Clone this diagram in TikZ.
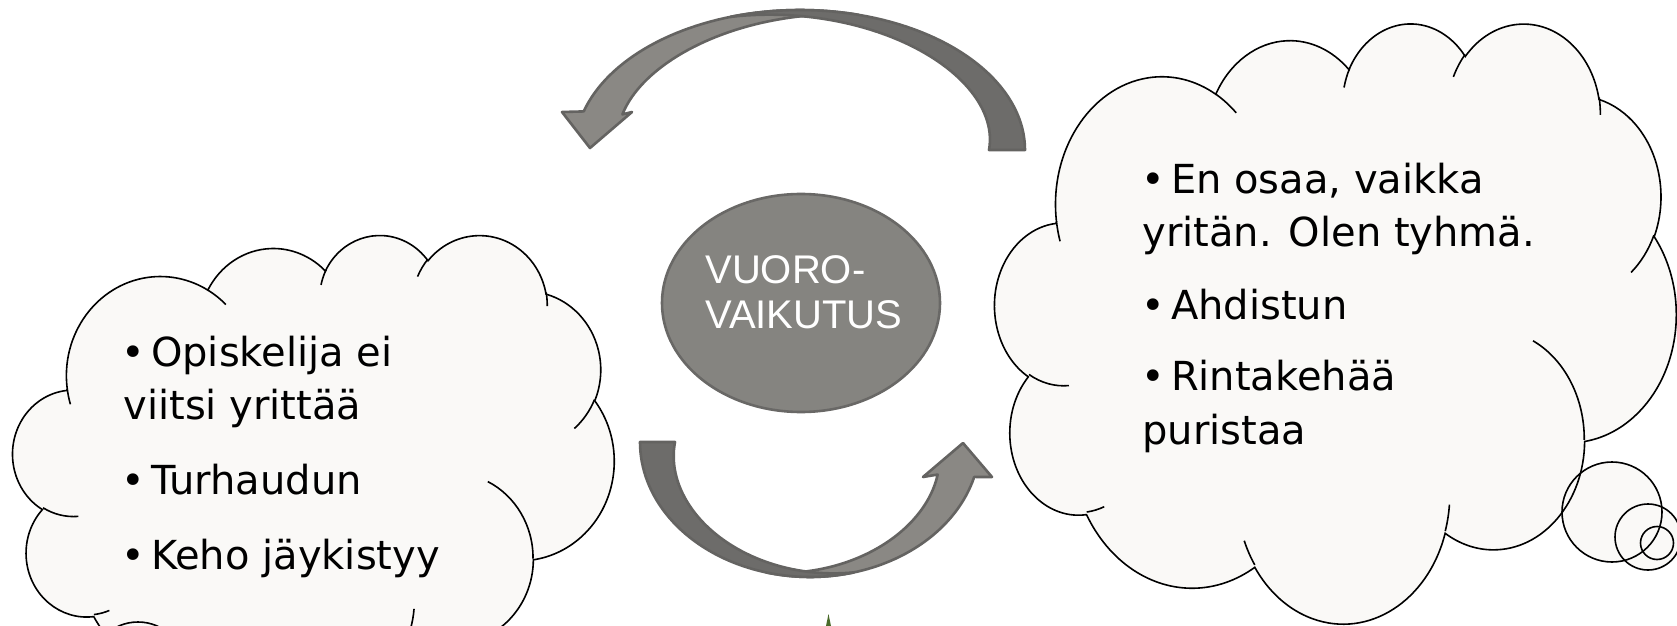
\documentclass[tikz,border=0pt]{standalone}
\usepackage{fontspec}
\setmainfont{DejaVu Sans}
\newfontfamily\arialf{Liberation Sans}
\usetikzlibrary{shapes.geometric}
\definecolor{cloudfill}{HTML}{FAF9F7}
\definecolor{arrdark}{HTML}{6D6C6A}
\definecolor{arrlight}{HTML}{8A8884}
\definecolor{arredge}{HTML}{646361}
\definecolor{ellfill}{HTML}{858480}
\definecolor{elledge}{HTML}{696866}
\definecolor{sprout}{HTML}{4A6B2A}
% arc of an OOXML-style ellipse: wR, hR, start angle, sweep (visual angles)
\newcommand\carc[4]{arc[x radius=#1, y radius=#2, start angle={pa(#1,#2,#3)}, delta angle={mod(pa(#1,#2,(#3)+(#4))-pa(#1,#2,#3)+720,360)}]}
\newcommand\cloudmain{(39.00,143.70)
  \carc{67.53}{91.90}{-190.4875}{123.7805}
  \carc{53.33}{72.67}{-144.1024}{89.9452}
  \carc{43.65}{59.45}{-145.8079}{99.7230}
  \carc{48.57}{65.95}{-130.9861}{117.2417}
  \carc{53.33}{72.73}{-78.7089}{109.0269}
  \carc{67.75}{92.20}{-46.2673}{130.2690}
  \carc{57.85}{78.67}{0.6250}{114.0333}
  \carc{67.52}{92.15}{22.4516}{115.1726}
  \carc{77.20}{105.43}{66.2426}{75.7110}
  \carc{43.60}{59.18}{-274.9421}{146.7356}
  \carc{43.45}{59.45}{-246.8285}{152.5189} -- cycle}
\newcommand\cloudcrease{
  (46.93,261.77) \carc{43.45}{59.45}{86.7420}{26.4295}
  (69.28,348.99) \carc{43.60}{59.18}{73.6105}{11.4475}
  (164.78,390.90) \carc{67.52}{92.15}{137.6242}{14.0811}
  (288.27,347.51) \carc{67.52}{92.15}{6.4533}{15.9984}
  (341.29,229.54) \carc{57.85}{78.67}{-70.2924}{70.9174}
  (417.98,153.54) \carc{53.33}{72.73}{30.3180}{27.7515}
  (383.24,54.26) \carc{48.57}{65.95}{-13.7443}{14.8589}
  (290.78,39.52) \carc{48.57}{65.95}{-149.1815}{18.1954}
  (221.41,47.20) \carc{43.65}{59.45}{-163.4943}{17.6864}
  (140.00,51.92) \carc{67.53}{91.90}{-66.7070}{12.3194}
  (41.27,157.89) \carc{67.53}{91.90}{157.6544}{11.8582}}
\begin{document}
\begin{tikzpicture}[x=0.5pt,y=-0.5pt,
  cloudline/.style={draw=black, line width=0.8pt},
  arrw/.style={draw=arredge, line width=1.3pt, line join=round},
  txt/.style={inner sep=0pt, font=\fontsize{20pt}{24pt}\selectfont, text=black, anchor=base west},
  vtxt/.style={inner sep=0pt, font=\arialf\fontsize{20pt}{24pt}\selectfont, text=white, anchor=base west},
  declare function={pa(\p,\q,\r)=atan2(\p*sin(\r),\q*cos(\r));}]
\useasboundingbox (0,0) rectangle (1677,626);
\fill[white] (0,0) rectangle (1677,626);
\clip (0,0) rectangle (1677,626);

% ---------- left cloud ----------
\begin{scope}[shift={(13,234)}, x=0.69560pt, y=-0.53935pt]
  \fill[cloudfill] \cloudmain;
\end{scope}
\fill[cloudfill] (138,670) circle[radius=48];
\begin{scope}[shift={(13,234)}, x=0.69560pt, y=-0.53935pt]
  \path[cloudline] \cloudmain;
  \path[cloudline] \cloudcrease;
\end{scope}
\path[cloudline] (138,670) circle[radius=48];

% ---------- right cloud ----------
\begin{scope}[shift={(995,22)}, x=0.78819pt, y=-0.69444pt]
  \fill[cloudfill] \cloudmain;
\end{scope}
\fill[cloudfill] (1612,512) circle[radius=50];
\fill[cloudfill] (1648,537) circle[radius=33];
\fill[cloudfill] (1657,543) circle[radius=16.5];
\begin{scope}[shift={(995,22)}, x=0.78819pt, y=-0.69444pt]
  \path[cloudline] \cloudmain;
  \path[cloudline] \cloudcrease;
\end{scope}
\path[cloudline] (1612,512) circle[radius=50];
\path[cloudline] (1648,537) circle[radius=33];
\path[cloudline] (1657,543) circle[radius=16.5];

% ---------- top arrow ----------
\path[arrw, fill=arrlight] plot[domain=75:164, samples=45, variable=\t] ({800+225*cos(\t)},{150-140*sin(\t)})
  -- (562,112) -- (590,148) -- (632,112)
  -- plot[domain=160:75, samples=45, variable=\t] ({800+(225-36*(\t-75)/85)*cos(\t)},{150-(140-36*(\t-75)/85)*sin(\t)}) -- cycle;
\path[arrw, fill=arrdark] plot[domain=0:108, samples=50, variable=\t] ({800+225*cos(\t)},{150-140*sin(\t)})
  -- plot[domain=108:0, samples=50, variable=\t] ({800+(225-36*(1-\t/108))*cos(\t)},{150-(140-36*(1-\t/108))*sin(\t)}) -- cycle;

% ---------- bottom arrow ----------
\path[arrw, fill=arrlight] plot[domain=75:165, samples=45, variable=\t] ({810-170*cos(\t)},{442+135*sin(\t)})
  -- (992,477) -- (963,443) -- (923,477)
  -- plot[domain=161:75, samples=45, variable=\t] ({810-(170-35*(\t-75)/86)*cos(\t)},{442+(135-35*(\t-75)/86)*sin(\t)}) -- cycle;
\path[arrw, fill=arrdark] plot[domain=0:105, samples=50, variable=\t] ({810-170*cos(\t)},{442+135*sin(\t)})
  -- plot[domain=105:0, samples=50, variable=\t] ({810-(170-35*(1-\t/105))*cos(\t)},{442+(135-35*(1-\t/105))*sin(\t)}) -- cycle;

% ---------- centre ellipse ----------
\node[ellipse, draw=elledge, line width=1.3pt, fill=ellfill, minimum width=139pt, minimum height=109pt, inner sep=0pt] (vk) at (801,303) {};
\node[vtxt] (vk1) at (705,283) {VUORO-};
\node[vtxt] (vk2) at (705,328) {VAIKUTUS};

% ---------- texts ----------
\node[txt] (l1) at (121,366) {•\hspace{3pt}Opiskelija ei};
\node[txt] (l2) at (123,419) {viitsi yrittää};
\node[txt] (l3) at (121,494) {•\hspace{3pt}Turhaudun};
\node[txt] (l4) at (121,569) {•\hspace{3pt}Keho jäykistyy};
\node[txt] (r1) at (1141,193) {•\hspace{3pt}En osaa, vaikka};
\node[txt] (r2) at (1142,246) {yritän. Olen tyhmä.};
\node[txt] (r3) at (1141,319) {•\hspace{3pt}Ahdistun};
\node[txt] (r4) at (1141,390) {•\hspace{3pt}Rintakehää};
\node[txt] (r5) at (1142,444) {puristaa};

% ---------- sprout ----------
\fill[sprout] (826,626) -- (828.5,614) -- (831,626) -- cycle;
\end{tikzpicture}
\end{document}
